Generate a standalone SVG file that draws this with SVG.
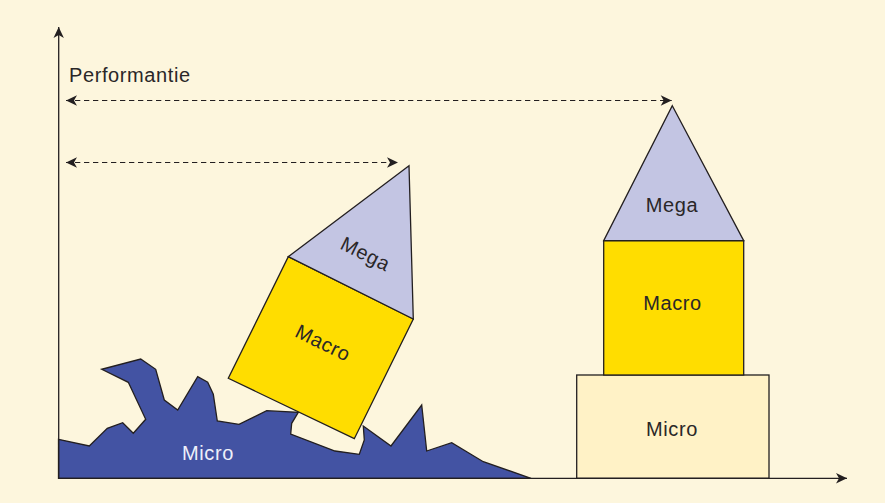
<svg xmlns="http://www.w3.org/2000/svg" width="885" height="503" viewBox="0 0 885 503">
<style>
  .ln{stroke:#231f20;stroke-width:1.3;fill:none}
  .shape{stroke:#231f20;stroke-width:1.3;stroke-linejoin:miter}
  .dash{stroke:#231f20;stroke-width:1.2;fill:none;stroke-dasharray:5.3 3.7}
  .lbl{font-family:"Liberation Sans",Arial,sans-serif;font-size:20px;fill:#2a2728;text-anchor:middle;letter-spacing:0.6px}
  .mega{fill:#c3c5e3}
  .macro{fill:#ffdd00}
  .microbox{fill:#fff2c6}
  .micro{fill:#4353a3}
</style>
<defs>
  <marker id="ah" viewBox="-12 -6 13 12" refX="0" refY="0" markerWidth="13" markerHeight="12" markerUnits="userSpaceOnUse" orient="auto-start-reverse">
    <path d="M0,0 L-11,-5.2 L-8,0 L-11,5.2 Z" fill="#231f20"/>
  </marker>
</defs>
<rect x="0" y="0" width="885" height="503" fill="#fdf6dd"/>

<g id="micro-ground">
  <polygon class="shape micro" points="58.5,439.3 89.3,446 107.3,428.3 122.7,422.7 133.3,433.3 145.7,419.3 128.3,382.3 101.7,369.3 140.7,359 155.7,369.3 164.3,400 177.7,410 197.7,376.7 207.7,382.3 213.3,394.3 217.3,421 239,424.3 266.7,410.7 298.3,412.3 291.7,423.3 290.7,434 335,451 359.3,454.3 364.3,440 363.3,426 391,446 421.7,405 426.7,451 451.7,442.7 483.3,461.7 531,478.3 58.5,478.3"/>
  <text class="lbl" x="208" y="460" style="fill:#eef0fa">Micro</text>
</g>

<g id="tilted-macro">
  <polygon class="shape macro" points="288.3,256.7 413.3,319 354.3,438.7 228.3,378.3"/>
  <text class="lbl" transform="translate(320,349) rotate(26.4)">Macro</text>
</g>
<g id="tilted-mega">
  <polygon class="shape mega" points="409,165.7 413.3,319 288.3,256.7"/>
  <text class="lbl" transform="translate(362.5,260) rotate(26.4)">Mega</text>
</g>

<g id="micro-box">
  <rect class="shape microbox" x="576.7" y="375" width="192.3" height="103.3"/>
  <text class="lbl" x="672" y="436">Micro</text>
</g>
<g id="macro-box">
  <rect class="shape macro" x="603.7" y="240.7" width="140" height="134.3"/>
  <text class="lbl" x="672.5" y="310">Macro</text>
</g>
<g id="mega-tri">
  <polygon class="shape mega" points="672.3,105.7 743.7,240.7 603.7,240.7"/>
  <text class="lbl" x="672" y="212">Mega</text>
</g>

<g id="connectors">
  <line class="ln" x1="58.7" y1="478.3" x2="58.7" y2="27" marker-end="url(#ah)"/>
  <line class="ln" x1="58" y1="478.3" x2="847" y2="478.3" marker-end="url(#ah)"/>
  <line class="dash" x1="66" y1="100.5" x2="671.7" y2="100.5" marker-start="url(#ah)" marker-end="url(#ah)"/>
  <line class="dash" x1="66" y1="162.5" x2="398" y2="162.5" marker-start="url(#ah)" marker-end="url(#ah)"/>
</g>

<g id="axis-label">
  <text class="lbl" x="69" y="82" style="text-anchor:start">Performantie</text>
</g>
</svg>
